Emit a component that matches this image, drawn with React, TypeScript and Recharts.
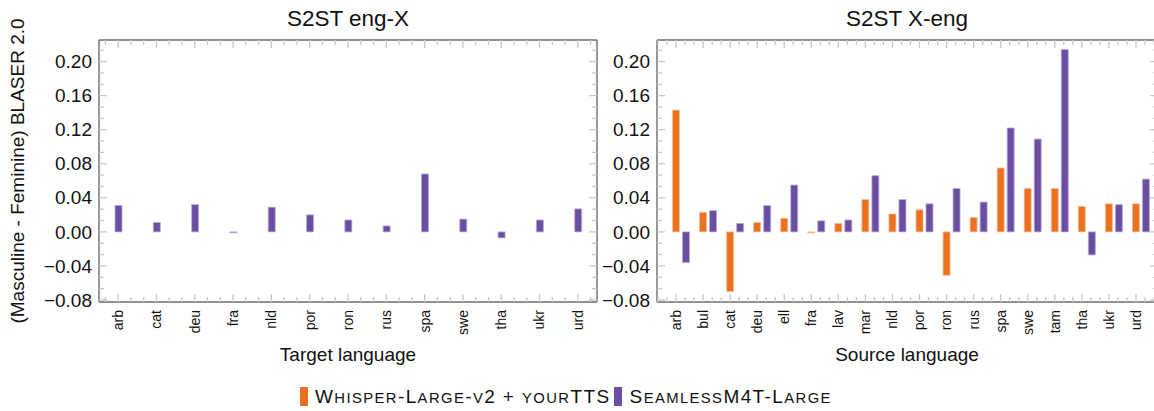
import React from 'react';
import { BarChart, Bar, XAxis, YAxis } from 'recharts';

const engXLanguages = ['arb', 'cat', 'deu', 'fra', 'nld', 'por', 'ron', 'rus', 'spa', 'swe', 'tha', 'ukr', 'urd'];
const engXSeamless = [0.031, 0.011, 0.032, -0.001, 0.029, 0.02, 0.014, 0.007, 0.068, 0.015, -0.007, 0.014, 0.027];

const xEngLanguages = ['arb', 'bul', 'cat', 'deu', 'ell', 'fra', 'lav', 'mar', 'nld', 'por', 'ron', 'rus', 'spa', 'swe', 'tam', 'tha', 'ukr', 'urd'];
const xEngWhisper = [0.143, 0.023, -0.07, 0.011, 0.016, -0.001, 0.01, 0.038, 0.021, 0.026, -0.051, 0.017, 0.075, 0.051, 0.051, 0.03, 0.033, 0.033];
const xEngSeamless = [-0.036, 0.025, 0.01, 0.031, 0.055, 0.013, 0.014, 0.066, 0.038, 0.033, 0.051, 0.035, 0.122, 0.109, 0.214, -0.027, 0.032, 0.062];

const yTicks = [-0.08, -0.04, 0, 0.04, 0.08, 0.12, 0.16, 0.2];

const FONT = '"Liberation Sans", Arial, Helvetica, sans-serif';
const ORANGE = '#eb7120';
const PURPLE = '#6b4ea2';
const BOX = '#6b6b6b';
const TICK = '#c8c8c8';
const PLOT_TOP = 40;
const PLOT_BOTTOM = 302;
const Y_DOMAIN: [number, number] = [-0.0823, 0.2253];
const MINOR_Y = ((PLOT_BOTTOM - PLOT_TOP) / (Y_DOMAIN[1] - Y_DOMAIN[0])) * 0.04 / 3;

const engXData = engXLanguages.map((lang, i) => ({ lang, seamless: engXSeamless[i] }));
const xEngData = xEngLanguages.map((lang, i) => ({ lang, whisper: xEngWhisper[i], seamless: xEngSeamless[i] }));

const fmt = (v: number) => (v < 0 ? '\u2212' + Math.abs(v).toFixed(2) : v.toFixed(2));

interface PanelProps {
    data: any[];
    width: number;
    axisWidth: number;
    padL: number;
    padR: number;
    shift: number;
    children: React.ReactNode;
}

function Panel({ data, width, axisWidth, padL, padR, shift, children }: PanelProps) {
    const plotLeft = axisWidth;
    const plotRight = width - 3;
    const band = (plotRight - plotLeft - padL - padR) / data.length;

    const xMinors = (cx: number, index: number) => {
        const out: number[] = [];
        for (const k of [1, 2]) {
            const r = cx + (k * band) / 3;
            if (r < plotRight) out.push(r);
            if (index === 0) {
                const l = cx - (k * band) / 3;
                if (l > plotLeft) out.push(l);
            }
        }
        return out;
    };

    const bottomTick = (props: any) => {
        const cx = props.x + shift;
        return (
            <g>
                <line x1={cx} x2={cx} y1={PLOT_BOTTOM} y2={PLOT_BOTTOM - 8} stroke={TICK} strokeWidth={1.3} />
                {xMinors(cx, props.index).map((m, i) => (
                    <line key={i} x1={m} x2={m} y1={PLOT_BOTTOM} y2={PLOT_BOTTOM - 5} stroke={TICK} strokeWidth={1.3} />
                ))}
                <text
                    transform={`translate(${cx},${PLOT_BOTTOM + 8}) rotate(-90)`}
                    textAnchor="end"
                    dy="0.35em"
                    fontSize={14}
                    fontFamily={FONT}
                    fill="#111"
                >
                    {props.payload.value}
                </text>
            </g>
        );
    };

    const topTick = (props: any) => {
        const cx = props.x + shift;
        return (
            <g>
                <line x1={cx} x2={cx} y1={PLOT_TOP} y2={PLOT_TOP + 8} stroke={TICK} strokeWidth={1.3} />
                {xMinors(cx, props.index).map((m, i) => (
                    <line key={i} x1={m} x2={m} y1={PLOT_TOP} y2={PLOT_TOP + 5} stroke={TICK} strokeWidth={1.3} />
                ))}
            </g>
        );
    };

    const yMinors = (y: number) => [1, 2].map((k) => y - k * MINOR_Y).filter((m) => m > PLOT_TOP);

    const leftTick = (props: any) => {
        const y = props.y;
        return (
            <g>
                <line x1={plotLeft} x2={plotLeft + 8} y1={y} y2={y} stroke={TICK} strokeWidth={1.3} />
                {yMinors(y).map((m, i) => (
                    <line key={i} x1={plotLeft} x2={plotLeft + 5} y1={m} y2={m} stroke={TICK} strokeWidth={1.3} />
                ))}
                <text x={plotLeft - 7} y={y} dy="0.35em" textAnchor="end" fontSize={19} fontFamily={FONT} fill="#111">
                    {fmt(props.payload.value)}
                </text>
            </g>
        );
    };

    const rightTick = (props: any) => {
        const y = props.y;
        return (
            <g>
                <line x1={plotRight} x2={plotRight - 8} y1={y} y2={y} stroke={TICK} strokeWidth={1.3} />
                {yMinors(y).map((m, i) => (
                    <line key={i} x1={plotRight} x2={plotRight - 5} y1={m} y2={m} stroke={TICK} strokeWidth={1.3} />
                ))}
            </g>
        );
    };

    const axisLine = { stroke: BOX, strokeWidth: 1.4 };

    return (
        <BarChart width={width} height={411} data={data} margin={{ top: 0, right: 0, bottom: 0, left: 0 }} barGap={3}>
            <XAxis
                xAxisId="b"
                dataKey="lang"
                orientation="bottom"
                height={411 - PLOT_BOTTOM}
                interval={0}
                padding={{ left: padL, right: padR }}
                axisLine={axisLine}
                tickLine={false}
                tick={bottomTick}
            />
            <XAxis
                xAxisId="t"
                dataKey="lang"
                orientation="top"
                height={PLOT_TOP}
                interval={0}
                padding={{ left: padL, right: padR }}
                axisLine={axisLine}
                tickLine={false}
                tick={topTick}
            />
            <YAxis
                yAxisId="l"
                type="number"
                width={axisWidth}
                domain={Y_DOMAIN}
                allowDataOverflow
                ticks={yTicks}
                interval={0}
                axisLine={axisLine}
                tickLine={false}
                tick={leftTick}
            />
            <YAxis
                yAxisId="r"
                orientation="right"
                type="number"
                width={3}
                domain={Y_DOMAIN}
                allowDataOverflow
                ticks={yTicks}
                interval={0}
                axisLine={axisLine}
                tickLine={false}
                tick={rightTick}
            />
            {children}
        </BarChart>
    );
}

function SmallCaps({ text }: { text: string }) {
    const runs = text.match(/[a-z]+|[^a-z]+/g) || [];
    return (
        <span>
            {runs.map((r, i) =>
                /[a-z]/.test(r[0]) ? (
                    <span key={i} style={{ fontSize: '0.78em' }}>
                        {r.toUpperCase()}
                    </span>
                ) : (
                    <span key={i}>{r}</span>
                )
            )}
        </span>
    );
}

const centered = (x: number, y: number, size: number, extra: React.CSSProperties = {}): React.CSSProperties => ({
    position: 'absolute',
    left: x,
    top: y,
    transform: 'translate(-50%, -50%)',
    fontSize: size,
    lineHeight: 1,
    whiteSpace: 'nowrap',
    color: '#111',
    ...extra,
});

export default function App() {
    return (
        <div
            style={{
                position: 'absolute',
                left: 0,
                top: 0,
                width: 1154,
                height: 411,
                overflow: 'hidden',
                background: '#fff',
                fontFamily: FONT,
            }}
        >
            <div style={{ position: 'absolute', left: 0, top: 0 }}>
                <Panel data={engXData} width={600} axisWidth={99} padL={0} padR={0} shift={0}>
                    <Bar
                        xAxisId="b"
                        yAxisId="l"
                        dataKey="seamless"
                        fill={PURPLE}
                        stroke="#b9a9d8"
                        strokeWidth={0.8}
                        barSize={7}
                        isAnimationActive={false}
                    />
                </Panel>
            </div>
            <div style={{ position: 'absolute', left: 600, top: 0 }}>
                <Panel data={xEngData} width={561} axisWidth={57} padL={10.5} padR={3.5} shift={-5}>
                    <Bar
                        xAxisId="b"
                        yAxisId="l"
                        dataKey="whisper"
                        fill={ORANGE}
                        stroke="#f6bf95"
                        strokeWidth={0.8}
                        barSize={7}
                        isAnimationActive={false}
                    />
                    <Bar
                        xAxisId="b"
                        yAxisId="l"
                        dataKey="seamless"
                        fill={PURPLE}
                        stroke="#b9a9d8"
                        strokeWidth={0.8}
                        barSize={7}
                        isAnimationActive={false}
                    />
                </Panel>
            </div>

            <div style={centered(348, 19, 22.5)}>S2ST eng-X</div>
            <div style={centered(907, 19, 22.5)}>S2ST X-eng</div>
            <div style={centered(348, 354, 19)}>Target language</div>
            <div style={centered(907, 354, 19)}>Source language</div>
            <div style={centered(17, 171, 19, { transform: 'translate(-50%, -50%) rotate(-90deg)' })}>
                (Masculine - Feminine) BLASER 2.0
            </div>

            <div
                style={{
                    position: 'absolute',
                    left: 300,
                    top: 387,
                    height: 19,
                    display: 'flex',
                    alignItems: 'center',
                    fontSize: 19,
                    letterSpacing: 1.4,
                    color: '#111',
                    whiteSpace: 'nowrap',
                }}
            >
                <span style={{ width: 8, height: 19, background: ORANGE, display: 'inline-block' }} />
                <span style={{ marginLeft: 7 }}>
                    <SmallCaps text="Whisper-Large-v2 + yourTTS" />
                </span>
                <span style={{ width: 8, height: 19, background: PURPLE, display: 'inline-block', marginLeft: 3 }} />
                <span style={{ marginLeft: 8 }}>
                    <SmallCaps text="SeamlessM4T-Large" />
                </span>
            </div>
        </div>
    );
}
